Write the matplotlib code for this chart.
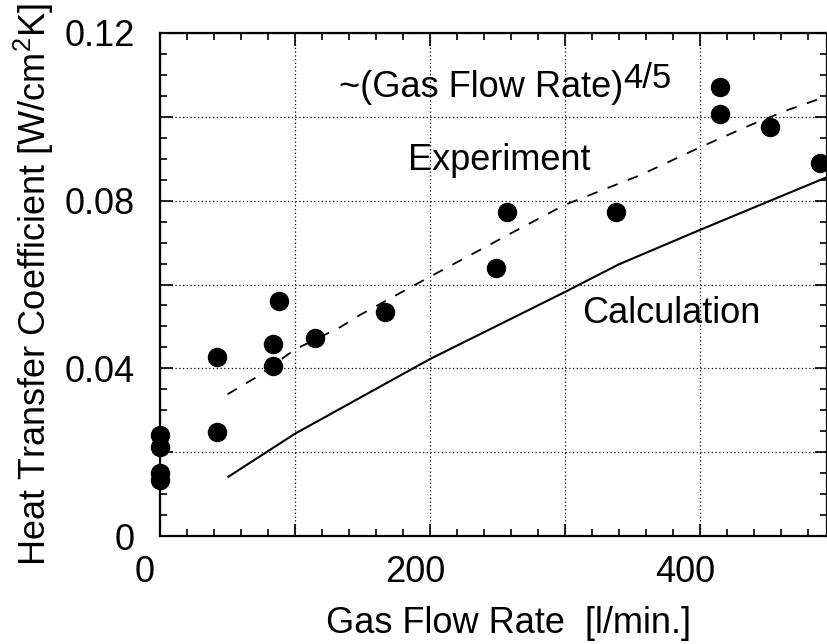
import matplotlib
matplotlib.use("Agg")
import matplotlib.pyplot as plt
from matplotlib.ticker import MultipleLocator, FuncFormatter
from matplotlib.transforms import ScaledTranslation

plt.rcParams['font.family'] = ['Liberation Sans', 'DejaVu Sans']
plt.rcParams['mathtext.fontset'] = 'custom'
plt.rcParams['mathtext.rm'] = 'Liberation Sans'

# Experimental points
exp_x = [0, 0, 0, 0, 42, 42, 84, 84, 88, 115, 167, 249, 257, 338, 415, 415, 452, 489]
exp_y = [0.0241, 0.0212, 0.0150, 0.0134, 0.0428, 0.0249, 0.0458, 0.0406, 0.0561,
         0.0473, 0.0535, 0.0639, 0.0772, 0.0772, 0.1070, 0.1007, 0.0976, 0.0891]

# ~(Gas Flow Rate)^(4/5) fit (dashed)
fit_x = [50, 72, 100, 134, 148, 198, 260, 300, 356, 400, 438, 465, 495]
fit_y = [0.0338, 0.0380, 0.0445, 0.0499, 0.0527, 0.0615, 0.0722, 0.0790, 0.0861,
         0.0927, 0.0981, 0.1016, 0.1050]

# Calculation (solid)
calc_x = [50, 100, 200, 300, 340, 400, 495]
calc_y = [0.0140, 0.0244, 0.0422, 0.0582, 0.0648, 0.0730, 0.0857]

fig = plt.figure(figsize=(8.27, 6.44), dpi=100)
ax = fig.add_axes([160/827, 1 - 536/644, 1 - 160/827 - 0.0005, (536 - 33)/644])

ax.plot(calc_x, calc_y, color='black', lw=1.5, solid_capstyle='butt')
ax.plot(fit_x, fit_y, color='black', lw=1.3, dashes=(6, 6))
ax.plot(exp_x, exp_y, 'o', color='black', ms=13, clip_on=False, zorder=5)

ax.set_xlim(0, 494)
ax.set_ylim(0, 0.12)

ax.xaxis.set_major_locator(MultipleLocator(100))
ax.xaxis.set_minor_locator(MultipleLocator(20))
ax.yaxis.set_major_locator(MultipleLocator(0.02))
ax.yaxis.set_minor_locator(MultipleLocator(0.005))

def xfmt(v, pos):
    iv = int(round(v))
    return str(iv) if iv % 200 == 0 else ''

def yfmt(v, pos):
    k = int(round(v / 0.02))
    if k % 2 != 0:
        return ''
    if k == 0:
        return '0'
    return '%.2f' % v

ax.xaxis.set_major_formatter(FuncFormatter(xfmt))
ax.yaxis.set_major_formatter(FuncFormatter(yfmt))

ax.tick_params(which='both', direction='in', top=True, right=True, width=1.2, color='black')
ax.tick_params(which='major', length=9, labelsize=26)
ax.tick_params(which='minor', length=5)
ax.tick_params(axis='x', which='major', pad=14)
ax.tick_params(axis='y', which='major', pad=18)

# shift x tick labels slightly left, as in the scanned original
shift = ScaledTranslation(-15/100, 0, fig.dpi_scale_trans)
for lbl in ax.get_xticklabels():
    lbl.set_transform(lbl.get_transform() + shift)

for s in ax.spines.values():
    s.set_linewidth(1.6)
    s.set_color('black')

ax.grid(True, which='major', color='black', lw=0.9, linestyle=(0, (1, 2)))

ax.set_xlabel('Gas Flow Rate  [l/min.]', fontsize=26, labelpad=11)
ax.xaxis.label.set_x(0.5 + 15/666)
ax.set_ylabel('Heat Transfer Coefficient [W/cm$^2$K]', fontsize=26, labelpad=6)

t = ax.text(133, 0.1047, '~(Gas Flow Rate)', fontsize=26, va='baseline', ha='left')
ax.annotate('4/5', xy=(1, 0), xycoords=t, xytext=(0, 7), textcoords='offset points',
            fontsize=25, va='bottom', ha='left')
ax.text(184, 0.0873, 'Experiment', fontsize=26, va='baseline', ha='left')
ax.text(313, 0.0530, 'Calculation', fontsize=26, va='center', ha='left')

fig.savefig('out.png', dpi=100)
